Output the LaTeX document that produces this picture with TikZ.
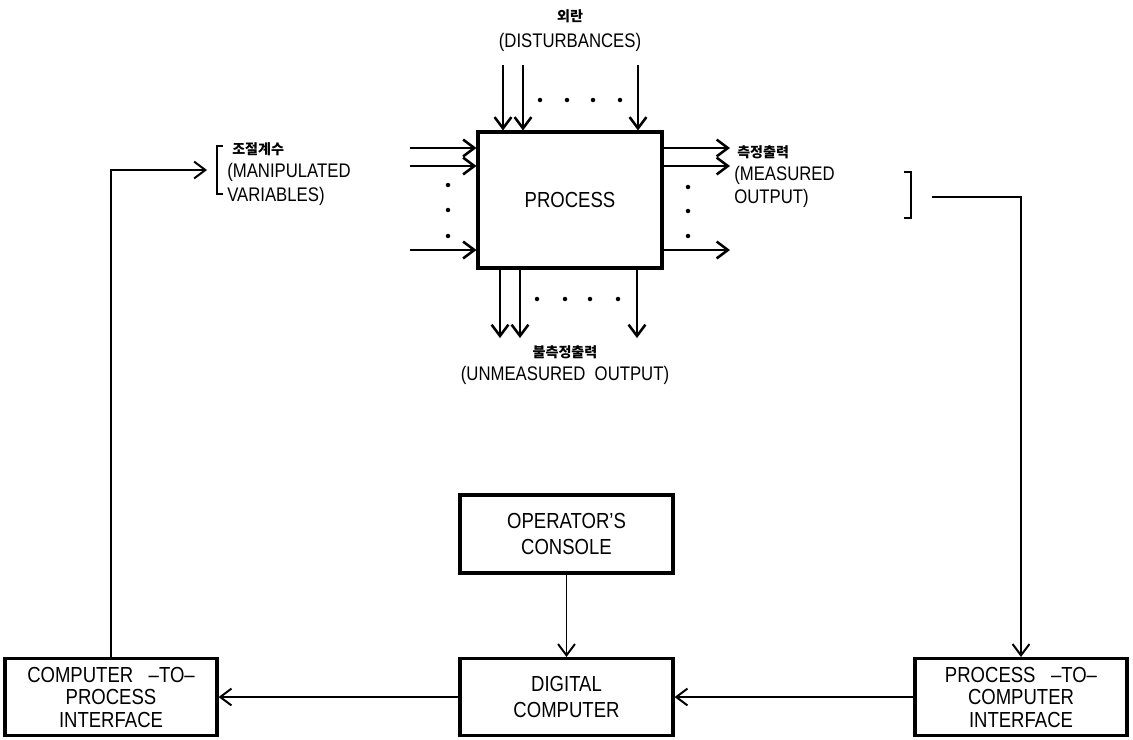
\documentclass[tikz,border=0pt]{standalone}
\usepackage{fontspec}
\setmainfont[FakeStretch=0.85]{Liberation Sans}
\newfontfamily\kofont{Noto Sans CJK KR}
\usetikzlibrary{arrows.meta}

\begin{document}
\begin{tikzpicture}[x=0.025cm, y=-0.025cm, line width=1.8pt,
    >={Straight Barb[length=8pt,width=12pt]},
    box/.style={draw, line width=2.2pt, align=center, inner sep=0pt,
      font=\fontsize{15.5}{16}\selectfont},
    lbl/.style={inner sep=0pt, font=\fontsize{14}{16}\selectfont},
    ko/.style={inner sep=0pt, font=\kofont\bfseries\fontsize{10}{12}\selectfont},
    loop/.style={line width=1.4pt}]
  \useasboundingbox (0,0) rectangle (1133,739);

  % Process block
  \node[box, minimum width=4.6cm, minimum height=3.4cm] (process) at (570,200) {PROCESS};

  % Disturbances
  \node[ko] (distko) at (570,16) {외란};
  \node[lbl] (dist) at (570,42) {(DISTURBANCES)};
  \foreach \x [count=\i] in {503,523,638} {
    \coordinate (d\i) at (\x,65);
    \draw[->] (d\i) -- (d\i |- process.north);
  }
  \foreach \x in {540,567,593,620}
    \fill (\x,100) circle (1.6pt);

  % Manipulated variables
  \foreach \y [count=\i] in {148,166,250} {
    \coordinate (u\i) at (410,\y);
    \draw[->] (u\i) -- (u\i -| process.west);
  }
  \foreach \y in {185,210,236}
    \fill (448,\y) circle (1.6pt);
  \draw[line width=1.5pt] (223,146) -- (217,146) -- (217,194) -- (223,194);
  \node[ko, anchor=west] (manipko) at (231,149) {조절계수};
  \node[lbl, anchor=west] (manip) at (226,172) {(MANIPULATED};
  \node[lbl, anchor=west] (vars) at (226,196) {VARIABLES)};

  % Measured output
  \foreach \y [count=\i] in {148,166,250} {
    \coordinate (m\i) at (730,\y);
    \draw[->] (m\i -| process.east) -- (m\i);
  }
  \foreach \y in {187,211,236}
    \fill (688,\y) circle (1.6pt);
  \node[ko, anchor=west] (measko) at (736,152) {측정출력};
  \node[lbl, anchor=west] (meas) at (733,175) {(MEASURED};
  \node[lbl, anchor=west] (outp) at (733,198) {OUTPUT)};
  \draw[line width=1.5pt] (904,172) -- (911,172) -- (911,218) -- (904,218);

  % Unmeasured output
  \foreach \x [count=\i] in {500,520,637} {
    \coordinate (n\i) at (\x,338);
    \draw[->] (n\i |- process.south) -- (n\i);
  }
  \foreach \x in {537,565,590,618}
    \fill (\x,299) circle (1.6pt);
  \node[ko] (unmko) at (565,352) {불측정출력};
  \node[lbl] (unm) at (565,375) {(UNMEASURED\ \ OUTPUT)};

  % Computer loop
  \node[box, minimum width=5.325cm, minimum height=1.95cm,
    font=\fontsize{15.5}{18.5}\selectfont] (console) at (566.5,534) {OPERATOR'S\\CONSOLE};
  \node[box, minimum width=5.325cm, minimum height=1.925cm,
    font=\fontsize{15.5}{18.5}\selectfont] (computer) at (566.5,697) {DIGITAL\\COMPUTER};
  \node[box, minimum width=5.3cm, minimum height=1.925cm] (cpi) at (111,697)
    {COMPUTER\ \ \ --TO--\\PROCESS\\INTERFACE};
  \node[box, minimum width=5.3cm, minimum height=1.925cm] (pci) at (1021,697)
    {PROCESS\ \ \ --TO--\\COMPUTER\\INTERFACE};

  \coordinate (rin) at (932,197);
  \coordinate (lin) at (207,170);
  \draw[loop, ->] (rin) -| (pci.north);
  \draw[loop, ->] (pci.west) -- (computer.east);
  \draw[loop, ->] (console) -- (computer);
  \draw[loop, ->] (computer.west) -- (cpi.east);
  \draw[loop, ->] (cpi.north) |- (lin);
\end{tikzpicture}
\end{document}
